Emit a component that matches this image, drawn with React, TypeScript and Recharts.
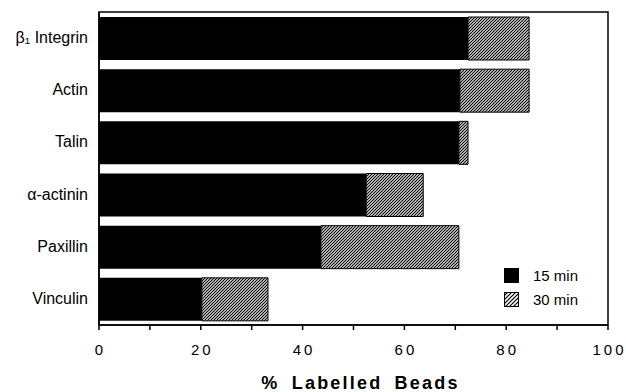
import { BarChart, Bar, XAxis, YAxis, ReferenceArea, Legend } from "recharts";

const FONT = "'Liberation Sans', Arial, Helvetica, sans-serif";

// (% labelled beads)
const proteins = ["β₁ Integrin", "Actin", "Talin", "α-actinin", "Paxillin", "Vinculin"];
const min15 = [72.5, 70.9, 70.7, 52.5, 43.6, 20.2];
const min30Extra = [12.0, 13.6, 1.8, 11.2, 27.1, 13.0]; // extra at 30 min, stacked on 15 min
const seriesNames = ["15 min", "30 min"];
const xTicks = [0, 10, 20, 30, 40, 50, 60, 70, 80, 90, 100];
const rowBounds = [1, 2, 3, 4, 5];

const data = proteins.map((name, i) => ({ name, m15: min15[i], m30: min30Extra[i] }));

function HatchDef({ id, step }: { id: string; step: number }) {
  const s = step;
  return (
    <pattern id={id} patternUnits="userSpaceOnUse" width={s} height={s}>
      <rect width={s} height={s} fill="#fff" />
      <path d={`M-1,1 l2,-2 M0,${s} l${s},-${s} M${s - 1},${s + 1} l2,-2`} stroke="#000" strokeWidth={1.2} />
    </pattern>
  );
}

function XTick(props: any) {
  const { x, y, payload } = props;
  if (payload.value % 20 !== 0) return null;
  return (
    <text x={x + 1.5} y={y} dy={11} textAnchor="middle" fontFamily={FONT} fontSize={15} letterSpacing={3} fill="#000">
      {payload.value}
    </text>
  );
}

function YTick(props: any) {
  const { x, y, payload } = props;
  return (
    <text x={x} y={y} dy={5} textAnchor="end" fontFamily={FONT} fontSize={16} fill="#000">
      {payload.value}
    </text>
  );
}

function LegendBox() {
  return (
    <div style={{ fontFamily: FONT, fontSize: 15, color: "#000", lineHeight: "15px" }}>
      {seriesNames.map((s, i) => (
        <div key={s} style={{ display: "flex", alignItems: "center", height: 24 }}>
          <svg width={15} height={15} style={{ marginRight: 14, display: "block" }}>
            <defs>
              <HatchDef id="hatchLegend" step={4} />
            </defs>
            <rect x={0.5} y={0.5} width={14} height={14} fill={i === 0 ? "#000" : "url(#hatchLegend)"} stroke="#000" />
          </svg>
          <span>{s}</span>
        </div>
      ))}
    </div>
  );
}

function Title(props: any) {
  const { viewBox } = props;
  const cx = viewBox.x + viewBox.width / 2 + 7;
  return (
    <text x={cx} y={389} textAnchor="middle" fontFamily={FONT} fontSize={18} fontWeight="bold" letterSpacing={2.2} wordSpacing={5} fill="#000">
      % Labelled Beads
    </text>
  );
}

export default function App() {
  return (
    <div style={{ position: "absolute", left: 0, top: 0, width: 626, height: 392, background: "#fff" }}>
      <BarChart
        width={626}
        height={392}
        data={data}
        layout="vertical"
        margin={{ top: 12, right: 18, left: 0, bottom: 0 }}
        barSize={43}
      >
        <defs>
          <HatchDef id="hatch30" step={3} />
        </defs>
        <YAxis
          yAxisId="sep"
          type="number"
          domain={[0, 6]}
          ticks={rowBounds}
          tick={false}
          tickSize={4}
          axisLine={false}
          width={0}
          tickLine={{ stroke: "#000", strokeWidth: 2 }}
        />
        <YAxis
          type="category"
          dataKey="name"
          width={99}
          tickLine={false}
          tickSize={4}
          tickMargin={7}
          tick={<YTick />}
          axisLine={{ stroke: "#000", strokeWidth: 1.5 }}
        />
        <XAxis
          type="number"
          domain={[0, 100]}
          ticks={xTicks}
          height={67}
          tickSize={5}
          tickMargin={14}
          tick={<XTick />}
          axisLine={{ stroke: "#000", strokeWidth: 1.5 }}
          tickLine={{ stroke: "#000", strokeWidth: 1.5 }}
          interval={0}
          label={<Title />}
        />
        <Bar dataKey="m15" name={seriesNames[0]} stackId="s" fill="#000" isAnimationActive={false} />
        <Bar dataKey="m30" name={seriesNames[1]} stackId="s" fill="url(#hatch30)" stroke="#000" strokeWidth={1} isAnimationActive={false} />
        <ReferenceArea x1={0} x2={100} fill="none" stroke="#000" strokeWidth={1.5} ifOverflow="visible" />
        <Legend
          layout="horizontal"
          verticalAlign="middle"
          align="center"
          content={<LegendBox />}
          wrapperStyle={{ position: "absolute", left: 504, top: 263.5, width: 100 }}
        />
      </BarChart>
    </div>
  );
}
